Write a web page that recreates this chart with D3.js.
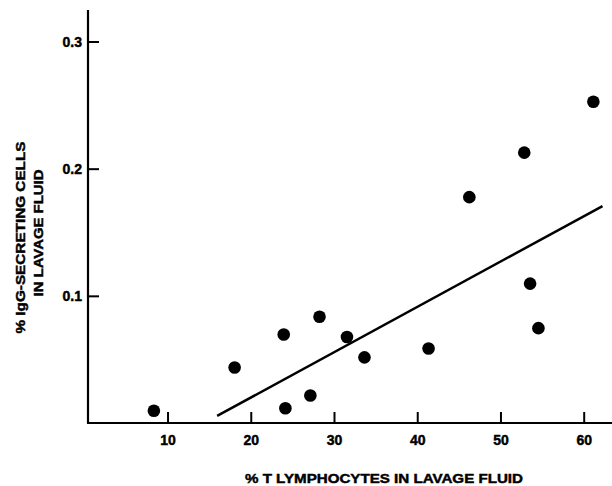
<!DOCTYPE html>
<html>
<head>
<meta charset="utf-8">
<script src="https://cdn.jsdelivr.net/npm/d3@7"></script>
<style>
  html, body { margin: 0; padding: 0; background: #fff; }
  svg { display: block; }
  text { font-family: "Liberation Sans", Arial, Helvetica, sans-serif; font-weight: bold; fill: #000; stroke: #000; stroke-width: 0.45px; }
</style>
</head>
<body>
<svg id="chart" width="612" height="486"></svg>
<script>
// Data
const tLymphocytes = [8.3, 18.0, 23.9, 24.1, 27.1, 28.2, 31.5, 33.6, 41.3, 46.2, 52.8, 53.5, 54.5, 61.1];
const igGCells     = [0.010, 0.044, 0.070, 0.012, 0.022, 0.084, 0.068, 0.052, 0.059, 0.178, 0.213, 0.110, 0.075, 0.253];
const regressionX  = [15.9, 62.2];
const regressionY  = [0.006, 0.171];
const xTicks = [10, 20, 30, 40, 50, 60];
const yTicks = [0.1, 0.2, 0.3];
const xTitle = "% T LYMPHOCYTES IN LAVAGE FLUID";
const yTitle = ["% IgG-SECRETING CELLS", "IN LAVAGE FLUID"];

const svg = d3.select("#chart");

const x = d3.scaleLinear().domain([0, 60]).range([84.8, 584.2]);
const y = d3.scaleLinear().domain([0, 0.3]).range([423.5, 42]);

const axisX0 = 88, axisY0 = 423;

// Y axis line
svg.append("line")
  .attr("x1", axisX0).attr("x2", axisX0)
  .attr("y1", 10).attr("y2", axisY0)
  .attr("stroke", "#000").attr("stroke-width", 2.2);

// X axis line
svg.append("line")
  .attr("x1", axisX0 - 1).attr("x2", 612)
  .attr("y1", axisY0).attr("y2", axisY0)
  .attr("stroke", "#000").attr("stroke-width", 2.2);

// Y ticks (pointing inward)
svg.selectAll(".ytick").data(yTicks).enter().append("line")
  .attr("x1", axisX0).attr("x2", axisX0 + 11)
  .attr("y1", d => y(d)).attr("y2", d => y(d))
  .attr("stroke", "#000").attr("stroke-width", 2);

svg.selectAll(".ylab").data(yTicks).enter().append("text")
  .attr("x", 82).attr("y", d => y(d) + 5)
  .attr("text-anchor", "end")
  .attr("font-size", 14)
  .text(d => d.toFixed(1));

// X ticks (pointing up)
svg.selectAll(".xtick").data(xTicks).enter().append("line")
  .attr("x1", d => x(d)).attr("x2", d => x(d))
  .attr("y1", axisY0).attr("y2", axisY0 - 11)
  .attr("stroke", "#000").attr("stroke-width", 2);

svg.selectAll(".xlab").data(xTicks).enter().append("text")
  .attr("x", d => x(d)).attr("y", 445)
  .attr("text-anchor", "middle")
  .attr("font-size", 14)
  .text(d => d);

// Axis titles
svg.append("text")
  .attr("x", 384).attr("y", 483)
  .attr("text-anchor", "middle")
  .attr("font-size", 13)
  .attr("textLength", 278).attr("lengthAdjust", "spacingAndGlyphs")
  .text(xTitle);

svg.append("text")
  .attr("transform", "translate(25,237.5) rotate(-90)")
  .attr("text-anchor", "middle")
  .attr("font-size", 13.5)
  .attr("textLength", 192).attr("lengthAdjust", "spacingAndGlyphs")
  .text(yTitle[0]);

svg.append("text")
  .attr("transform", "translate(43,233) rotate(-90)")
  .attr("text-anchor", "middle")
  .attr("font-size", 13.5)
  .attr("textLength", 127).attr("lengthAdjust", "spacingAndGlyphs")
  .text(yTitle[1]);

// Regression line
svg.append("line")
  .attr("x1", x(regressionX[0])).attr("y1", y(regressionY[0]))
  .attr("x2", x(regressionX[1])).attr("y2", y(regressionY[1]))
  .attr("stroke", "#000").attr("stroke-width", 2.5);

// Points
svg.selectAll(".pt").data(tLymphocytes.map((v, i) => [v, igGCells[i]])).enter().append("circle")
  .attr("cx", d => x(d[0])).attr("cy", d => y(d[1]))
  .attr("r", 6.3)
  .attr("fill", "#000");
</script>
</body>
</html>
